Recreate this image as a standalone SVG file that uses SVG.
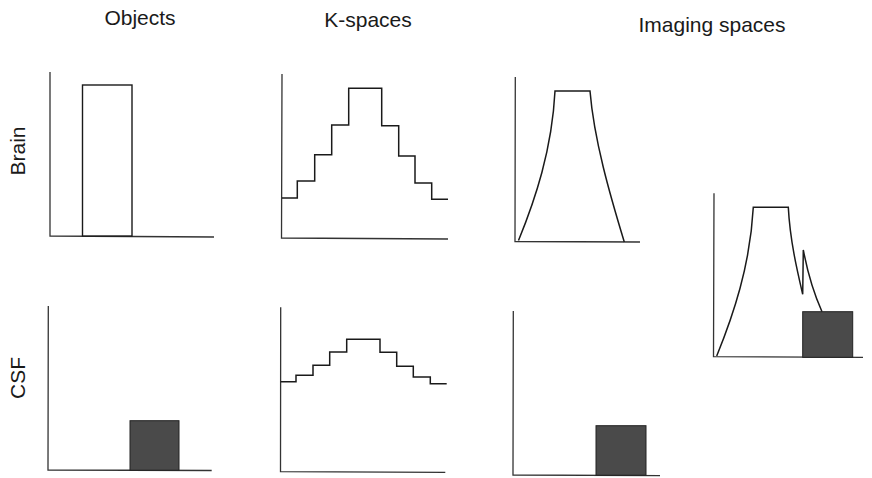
<svg xmlns="http://www.w3.org/2000/svg" width="872" height="478" viewBox="0 0 872 478">
<style>
.title{font-family:"Liberation Sans",Arial,sans-serif;font-size:21px;fill:#1a1a1a;text-anchor:middle}
.axis{fill:none;stroke:#333;stroke-width:1.3}
.curve{fill:none;stroke:#1a1a1a;stroke-width:1.5;stroke-linejoin:miter}
.obj{fill:#fff;stroke:#1a1a1a;stroke-width:1.4}
.dark{fill:#4a4a4a;stroke:#222;stroke-width:1}
</style>
<rect width="872" height="478" fill="#fff"/>
<g id="titles">
<text class="title" x="140" y="25">Objects</text>
<text class="title" x="368" y="27">K-spaces</text>
<text class="title" x="712" y="32">Imaging spaces</text>
<text class="title" transform="translate(25,151) rotate(-90)">Brain</text>
<text class="title" transform="translate(25,378) rotate(-90)">CSF</text>
</g>
<g id="brain-object">
<path class="axis" d="M50,72 L50,236 L214,237"/>
<rect class="obj" x="82.5" y="85" width="49.5" height="151"/>
</g>
<g id="brain-kspace">
<path class="axis" d="M282,74 L281.5,238 L448,239"/>
<path class="curve" d="M282,198 H297.3 V181 H314.7 V154.7 H331.7 V125 H348.7 V88.3 H381.7 V125.7 H398.7 V156 H415 V183 H431.7 V199.3 H448"/>
</g>
<g id="brain-image">
<path class="axis" d="M515.3,77 L515,241.5 L640,242"/>
<path class="curve" d="M518.5,240.5 C535,200 552,150 555,91 H590 C594,140 610,195 624.3,242"/>
</g>
<g id="csf-object">
<path class="axis" d="M48.3,306 L48,470 L211.7,470.5"/>
<rect class="dark" x="130" y="420.7" width="49" height="49.5"/>
</g>
<g id="csf-kspace">
<path class="axis" d="M280.7,307.3 L280.5,471.7 L445.3,472.3"/>
<path class="curve" d="M280.7,381.7 H296 V375.3 H313 V365.3 H329.7 V352 H346.7 V339.3 H380 V352.3 H396.7 V366.3 H413.3 V377 H430.3 V383.7 H446.7"/>
</g>
<g id="csf-image">
<path class="axis" d="M513.3,311 L513,475 L660,475.7"/>
<rect class="dark" x="596" y="425.7" width="50" height="49.5"/>
</g>
<g id="combined-image">
<path class="axis" d="M714,193.3 L713.5,356.7 L863,357.3"/>
<path class="curve" d="M716.7,356 C733.2,315.5 750.2,265.5 753.3,207.3 H788.3 C790,240 797,270 802.7,294.3 L803.3,250 Q810,285 822,311.7"/>
<rect class="dark" x="802.7" y="311.7" width="50" height="45.6"/>
</g>
</svg>
